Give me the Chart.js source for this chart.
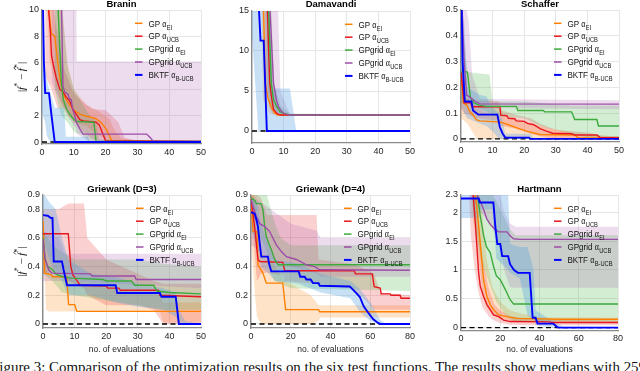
<!DOCTYPE html>
<html>
<head>
<meta charset="utf-8">
<script src="https://cdn.jsdelivr.net/npm/chart.js@4.4.0/dist/chart.umd.min.js"></script>
<style>
  body { margin: 0; width: 640px; height: 371px; overflow: hidden; background: #fff; position: relative; }
  canvas { position: absolute; }
  #caption { position: absolute; left: -9px; top: 360px; font-family: "Liberation Serif", serif; font-size: 15px; line-height: 15px; white-space: nowrap; color: #111; transform-origin: 0 0; }
</style>
</head>
<body>
<canvas id="c1" width="210" height="160" style="left:0;top:0"></canvas>
<canvas id="c2" width="210" height="160" style="left:210px;top:0"></canvas>
<canvas id="c3" width="220" height="160" style="left:420px;top:0"></canvas>
<canvas id="c4" width="210" height="197" style="left:0;top:160px"></canvas>
<canvas id="c5" width="210" height="197" style="left:210px;top:160px"></canvas>
<canvas id="c6" width="220" height="197" style="left:420px;top:160px"></canvas>
<div id="caption">Figure 3: Comparison of the optimization results on the six test functions. The results show medians with 25%</div>
<script>
// medianas [x, y] y bandas [x, inferior, superior]
// --- Branin
const braninGpEI = [[2,10.5],[2.9,8.2],[3.5,8.1],[4,8],[4.5,7],[5,6],[5.5,5],[6.6,3.7],[7.6,3.2],[9,2.7],[10,2.4],[12,2.1],[14,1.95],[16.6,1.8],[18.2,1.55],[19.2,1.3],[20.3,0.93],[21.3,0.43],[22,0.1],[50,0.05]];
const braninGpUCB = [[1.9,10.5],[2.65,8.3],[3,6.5],[3.7,5.7],[4.5,4.85],[5.6,4.0],[6.6,3.8],[7.6,3.4],[8.7,3.1],[9.8,2.45],[10.8,2.1],[11.9,1.7],[13,1.6],[17,1.5],[18,1.3],[19,0.7],[20,0.1],[50,0.05]];
const braninGridEI = [[5,10.5],[5.6,7],[6.1,4.5],[6.7,3.2],[7.7,2.5],[8.7,2.1],[10,1.7],[11,1.55],[16.3,1.5],[17,0.05],[50,0.05]];
const braninGridUCB = [[6.1,10.5],[6.6,4.2],[7.1,3.8],[8.2,3.6],[8.5,3.3],[9.2,3.2],[9.6,2.5],[10.3,2.0],[10.8,1.5],[11.9,1.0],[12.9,0.6],[32.9,0.6],[34,0.35],[35,0.05],[50,0.05]];
const braninBktf = [[0.3,10.5],[0.6,6],[1,3.7],[2.2,3.7],[3,2],[4,0],[50,0]];
const braninGpEIBand = [[1.5,10.5,10.5],[2.5,6,11],[4,4.5,11],[6,3,11],[8,2,6],[10,1.5,4],[14,1.2,2.8],[18,0.5,2.3],[21,0,1.8],[23,0,0.8],[25,0,0.3],[30,0,0.1],[50,0,0.05]];
const braninGpUCBBand = [[1,5,11],[3,4,11],[5,2.5,8],[7,2.6,5.5],[10,1.6,3.7],[13,0.8,3],[16,0.2,2.5],[20,0,2.4],[24,0,1.5],[26,0,0.3],[30,0,0.1],[50,0,0.05]];
const braninGridEIBand = [[4,4,11],[6,2,11],[8,1.5,5.7],[10,0.8,4],[13,0.5,2.8],[15,0,2],[17,0,1.6],[18,0,0.2],[50,0,0.05]];
const braninGridUCBBand = [[3,4.5,11],[6,3,11],[8,2,11],[10.8,1,11],[10.9,0.6,6.1],[13,0.3,6.1],[15,0,6.1],[50,0,6.1]];
const braninBktfBand = [[0,2.2,10.5],[1,1.5,6],[1.5,0.5,4.7],[2.5,0,3.8],[4,0,2.6],[7,0,2.6],[7.5,0,0.4],[14.5,0,0.4],[15,0,0],[50,0,0]];

// --- Damavandi
const damaGpEI = [[3.6,16],[4.2,6],[5,4.2],[6,3.1],[7,2.3],[8,2.0],[50,2.0]];
const damaGpUCB = [[4.8,16],[5.6,6],[6.3,3.9],[6.8,2.7],[7.9,2.2],[8.9,2.0],[50,2.0]];
const damaGridEI = [[5.2,16],[6.1,6],[6.8,3.9],[7.9,3.0],[8.9,2.4],[10,2.2],[12,2.0],[50,2.0]];
const damaGridUCB = [[5.6,16],[6.8,6],[7.7,3.9],[8.4,3.0],[9.5,2.4],[10.5,2.1],[12,2.0],[50,2.0]];
const damaBktf = [[2.1,16],[2.7,11.3],[3.7,11.3],[4.2,5.5],[4.7,0],[50,0]];
const damaGpEIBand = [[3,16,16],[3.5,4,16],[4.5,3,16],[5.5,2.2,8],[7,2,3],[8,2,2.1],[50,2,2]];
const damaGpUCBBand = [[4,16,16],[4.5,5,16],[5.5,3,16],[6.5,2.2,6],[8,2,3],[10,2,2.1],[50,2,2]];
const damaGridEIBand = [[4.5,16,16],[5,5,16],[6,3.5,16],[7,2.5,6],[9,2.1,3.2],[12,2,2.2],[50,2,2]];
const damaGridUCBBand = [[4.5,16,16],[5.5,5,16],[7,3,16],[8.2,2.3,16],[9,2.1,5],[12,2,2.1],[50,2,2]];
const damaBktfBand = [[0,12,16],[2,0,16],[5.5,0,16],[6.5,0,5.3],[12,0,5.3],[14,0,0],[50,0,0]];

// --- Schaffer
const schGpEI = [[0,0.25],[0.4,0.2],[0.7,0.14],[1.9,0.13],[2.7,0.107],[4,0.09],[4.8,0.075],[6,0.07],[12.5,0.065],[15,0.055],[17.7,0.043],[20.8,0.03],[23,0.023],[25,0.017],[36,0.015],[37,0.005],[50,0.004]];
const schGpUCB = [[0,0.26],[1,0.14],[3,0.14],[3.5,0.125],[12.3,0.125],[12.6,0.092],[14.5,0.09],[15,0.08],[17,0.078],[17.5,0.07],[20,0.068],[21,0.06],[23,0.055],[24,0.048],[25,0.04],[27,0.03],[29,0.022],[35,0.02],[36,0.015],[43,0.015],[44,0.005],[50,0.005]];
const schGridEI = [[0,0.26],[2,0.26],[3,0.16],[4,0.14],[6,0.13],[8,0.126],[17.5,0.126],[18,0.11],[26,0.11],[26.5,0.105],[35,0.105],[36,0.075],[43,0.075],[43.5,0.05],[50,0.05]];
const schGridUCB = [[0.3,0.52],[1,0.3],[1.8,0.17],[3,0.16],[4.5,0.145],[6,0.136],[50,0.135]];
const schBktf = [[0.2,0.52],[0.5,0.3],[1.2,0.145],[3.3,0.145],[3.8,0.11],[5.5,0.094],[11.5,0.094],[12.3,0.045],[13.2,0.02],[14,0.005],[21.5,0.005],[22,0],[50,0]];
const schGpEIBand = [[0,0.08,0.26],[2,0.06,0.16],[5,0,0.12],[8,0,0.1],[13,0,0.09],[20,0,0.07],[25,0,0.05],[35,0,0.025],[40,0,0.015],[50,0,0.01]];
const schGpUCBBand = [[0,0.12,0.3],[1,0.1,0.16],[5,0.08,0.15],[12,0.07,0.145],[13,0.05,0.11],[17,0.04,0.095],[22,0.02,0.08],[25,0.01,0.06],[30,0,0.035],[40,0,0.025],[45,0,0.012],[50,0,0.01]];
const schGridEIBand = [[0,0.14,0.52],[2,0.14,0.26],[9,0.1,0.25],[10,0.09,0.145],[20,0.08,0.145],[25,0.05,0.14],[35,0.02,0.13],[40,0.005,0.13],[50,0,0.13]];
const schGridUCBBand = [[0,0.2,0.52],[1.5,0.15,0.52],[2.4,0.14,0.46],[3.5,0.13,0.25],[6,0.12,0.155],[50,0.115,0.15]];
const schBktfBand = [[0,0.13,0.52],[1,0.1,0.45],[2,0.08,0.2],[6,0.06,0.17],[8,0.05,0.165],[10,0.03,0.12],[12,0,0.1],[13,0,0.08],[14,0,0.02],[22,0,0.02],[23,0,0],[50,0,0]];

// --- Griewank D=3
const g3GpEI = [[0,0.72],[0.5,0.355],[2.5,0.345],[3,0.33],[7.5,0.33],[8.1,0.135],[10,0.135],[10.7,0.088],[50,0.088]];
const g3GpUCB = [[0,0.63],[8,0.63],[8.8,0.4],[9.5,0.34],[10.2,0.32],[11.3,0.285],[11.8,0.27],[20,0.265],[20.5,0.25],[24,0.25],[24.5,0.235],[36.5,0.235],[37,0.2],[50,0.19]];
const g3GridEI = [[0,0.6],[0.7,0.45],[1.5,0.4],[3,0.38],[4,0.35],[6,0.33],[9,0.32],[19,0.31],[20,0.3],[28,0.3],[29,0.27],[35,0.27],[36,0.23],[40,0.22],[50,0.21]];
const g3GridUCB = [[0,0.59],[0.7,0.45],[1.8,0.378],[2.8,0.355],[15,0.35],[15.5,0.335],[29,0.335],[29.5,0.31],[50,0.31]];
const g3Bktf = [[0,0.76],[1.5,0.755],[2.5,0.74],[3,0.74],[3.4,0.436],[6,0.436],[6.5,0.38],[7.6,0.27],[23,0.27],[23.5,0.216],[37,0.216],[37.5,0.19],[42,0.19],[43,0],[50,0]];
const g3GpEIBand = [[0,0.6,0.8],[1,0.1,0.4],[2,0.088,0.35],[7,0.088,0.34],[10,0.088,0.3],[20,0.088,0.25],[30,0.088,0.22],[37,0.088,0.2],[38,0.01,0.15],[50,0.01,0.15]];
const g3GpUCBBand = [[0,0.35,0.8],[5,0.35,0.8],[8,0.3,0.84],[13,0.25,0.84],[14,0.2,0.6],[20,0.13,0.45],[30,0.13,0.35],[35,0.1,0.3],[38,0,0.28],[50,0,0.28]];
const g3GridEIBand = [[0,0.35,0.65],[3,0.3,0.55],[6,0.22,0.5],[10,0.2,0.45],[30,0.13,0.45],[38,0.1,0.42],[50,0.1,0.4]];
const g3GridUCBBand = [[0,0.3,0.65],[5,0.3,0.6],[7,0.3,0.49],[50,0.25,0.49]];
const g3BktfBand = [[0,0.6,0.92],[2,0.45,0.85],[4,0.35,0.8],[6,0.3,0.6],[8,0.2,0.45],[15,0.2,0.35],[23,0.15,0.33],[30,0.12,0.28],[38,0.1,0.25],[42,0.05,0.22],[43,0,0.1],[45,0,0.02],[50,0,0]];

// --- Griewank D=4
const g4GpEI = [[0,0.89],[1,0.645],[3,0.645],[3.5,0.413],[6,0.355],[7.7,0.285],[16,0.285],[17.4,0.1],[34,0.1],[34.5,0.085],[80,0.085]];
const g4GpUCB = [[0,0.88],[1.8,0.68],[3.5,0.45],[4.4,0.436],[16,0.43],[17,0.371],[52,0.371],[52.5,0.35],[61,0.35],[62,0.26],[65,0.25],[65.5,0.21],[70,0.21],[70.5,0.2],[75,0.2],[75.5,0.18],[80,0.18]];
const g4GridEI = [[0,0.88],[2,0.86],[2.7,0.84],[5,0.84],[6,0.8],[6.9,0.68],[7.7,0.61],[9,0.56],[10.2,0.52],[11.9,0.45],[13.6,0.413],[80,0.413]];
const g4GridUCB = [[0,0.87],[1,0.82],[2.7,0.75],[4.4,0.7],[6.9,0.68],[9.4,0.645],[11,0.6],[12.8,0.55],[15.3,0.505],[17.8,0.47],[22.8,0.45],[27.9,0.413],[32,0.4],[34.6,0.378],[80,0.375]];
const g4Bktf = [[0,0.78],[1.8,0.77],[2.7,0.73],[3.5,0.68],[4.4,0.56],[5.2,0.47],[8.5,0.47],[9,0.425],[10.2,0.367],[24,0.367],[24.8,0.33],[27,0.33],[27.9,0.31],[30,0.31],[31.2,0.285],[34,0.285],[34.6,0.267],[49.7,0.262],[53,0.216],[54.7,0.19],[56.7,0.123],[58.9,0.08],[61.4,0.035],[63.9,0.007],[65,0],[80,0]];
const g4GpEIBand = [[0,0.6,0.9],[2,0.2,0.9],[3,0.05,0.6],[5,0,0.5],[10,0,0.45],[16,0,0.32],[17,0,0.3],[20,0,0.28],[30,0,0.2],[34,0.02,0.13],[35,0.046,0.13],[80,0.046,0.13]];
const g4GpUCBBand = [[0,0.8,0.9],[3,0.3,0.9],[5,0.35,0.88],[8,0.36,0.76],[16,0.34,0.76],[17,0.3,0.76],[33,0.28,0.76],[34,0.27,0.45],[50,0.25,0.42],[55,0.2,0.4],[62,0.1,0.35],[65,0.1,0.22],[80,0.1,0.2]];
const g4GridEIBand = [[0,0.8,0.9],[5,0.6,0.9],[8,0.5,0.9],[10,0.35,0.8],[12,0.3,0.7],[15,0.28,0.6],[20,0.25,0.55],[80,0.23,0.55]];
const g4GridUCBBand = [[0,0.55,0.9],[5,0.5,0.85],[10,0.45,0.8],[20,0.4,0.7],[33,0.35,0.65],[35,0.33,0.6],[80,0.33,0.6]];
const g4BktfBand = [[0,0.65,0.88],[3,0.55,0.85],[5,0.4,0.7],[9,0.35,0.55],[12,0.3,0.45],[24,0.28,0.42],[35,0.22,0.35],[50,0.18,0.3],[55,0.08,0.24],[60,0.02,0.15],[65,0,0.03],[68,0,0],[80,0,0]];

// --- Hartmann
const hGpEI = [[7,2.4],[8.2,2.05],[9.8,1.47],[11.5,0.83],[13.2,0.54],[14.9,0.4],[16.6,0.31],[19.2,0.22],[23.4,0.19],[28.5,0.16],[50,0.145],[80,0.145]];
const hGpUCB = [[6,2.4],[7.3,1.82],[8.2,1.35],[9,0.95],[9.8,0.72],[11.5,0.54],[13.2,0.4],[14.9,0.31],[16.6,0.22],[19.2,0.19],[21.7,0.13],[25.1,0.105],[45,0.1],[46,0.09],[80,0.09]];
const hGridEI = [[8,2.4],[9.8,1.94],[11.5,1.6],[13,1.4],[14.9,1.3],[16.6,1.06],[18,0.9],[20,0.83],[22.6,0.66],[25.1,0.48],[26.8,0.41],[80,0.41]];
const hGridUCB = [[6.5,2.4],[9.8,2.2],[11.5,2.05],[13.2,1.88],[14.9,1.79],[17.5,1.7],[19.2,1.66],[23.4,1.66],[25.1,1.59],[26.8,1.54],[30,1.53],[80,1.53]];
const hBktf = [[0,2.24],[9,2.24],[9.5,2.17],[16.5,2.17],[17.5,1.75],[18.5,1.45],[20,1.45],[21,1.24],[24,1.24],[25,1.1],[27,1.0],[29,0.95],[35,0.95],[36.5,0.17],[38,0.17],[39,0.07],[47,0.07],[49,0.01],[50,0],[80,0]];
const hGpEIBand = [[5,2.4,2.4],[6,1.9,2.4],[9,1.2,2.4],[11,0.6,1.9],[13,0.35,1.2],[16,0.22,0.7],[20,0.15,0.45],[25,0.12,0.3],[30,0.1,0.25],[40,0.1,0.18],[80,0.1,0.17]];
const hGpUCBBand = [[4,2.4,2.4],[5,1.6,2.4],[7,1.0,2.3],[9,0.6,1.8],[11,0.35,1.2],[14,0.2,0.7],[17,0.12,0.4],[20,0.08,0.3],[25,0.05,0.2],[35,0.04,0.15],[80,0.04,0.12]];
const hGridEIBand = [[5,2.4,2.4],[7,1.8,2.4],[10,1.2,2.4],[14,0.8,2.4],[18,0.45,2.2],[22,0.25,1.9],[25,0.15,1.7],[28,0.1,1.6],[80,0.1,1.6]];
const hGridUCBBand = [[5,2.3,2.4],[10,2.0,2.4],[15,1.8,2.4],[20,1.4,2.3],[22,1.0,2.0],[25,0.7,1.8],[28,0.69,1.75],[80,0.69,1.75]];
const hBktfBand = [[0,1.9,2.3],[9,1.9,2.3],[10,2.05,2.35],[16,2.05,2.35],[18,1.2,2.35],[24,1.0,2.35],[25,0.95,1.45],[30,0.85,1.4],[34,0.2,1.4],[37,0.15,1.0],[38,0.05,0.3],[45,0,0.15],[52,0,0.02],[80,0,0.01]];

// leyenda y estilos
const legendMain = ['GP ', 'GP ', 'GPgrid ', 'GPgrid ', 'BKTF '];
const legendSub = ['EI', 'UCB', 'EI', 'UCB', 'B-UCB'];
const lineColors = ['#ff8000', '#e8171e', '#3cab3c', '#9d4ca8', '#0000ff'];
const bandColors = ['rgba(255,140,30,0.24)', 'rgba(232,40,40,0.22)', 'rgba(70,180,70,0.24)', 'rgba(160,80,170,0.2)', 'rgba(80,160,225,0.32)'];
const lineOrder = [5, 4, 3, 2, 0];

const panels = [
    { id: 'c1', title: 'Branin', top: 10, right: 9, left: 42, bottom: 16, xmax: 50, xstep: 10, ymin: -0.15, ymax: 10, yticks: [0,2,4,6,8,10], ylabel: true, xlabel: false, titleY: 4,
      series: [[braninGpEI, braninGpEIBand], [braninGpUCB, braninGpUCBBand], [braninGridEI, braninGridEIBand], [braninGridUCB, braninGridUCBBand], [braninBktf, braninBktfBand]] },
    { id: 'c2', title: 'Damavandi', top: 11, right: 10, left: 42, bottom: 17, xmax: 50, xstep: 10, ymin: -1.5, ymax: 15, yticks: [0,5,10,15], ylabel: false, xlabel: false, titleY: 4,
      series: [[damaGpEI, damaGpEIBand], [damaGpUCB, damaGpUCBBand], [damaGridEI, damaGridEIBand], [damaGridUCB, damaGridUCBBand], [damaBktf, damaBktfBand]] },
    { id: 'c3', title: 'Schaffer', top: 10, right: 21, left: 41, bottom: 18, xmax: 50, xstep: 10, ymin: -0.012, ymax: 0.5, yticks: [0,0.1,0.2,0.3,0.4,0.5], ylabel: false, xlabel: false, titleY: 4,
      series: [[schGpEI, schGpEIBand], [schGpUCB, schGpUCBBand], [schGridEI, schGridEIBand], [schGridUCB, schGridUCBBand], [schBktf, schBktfBand]] },
    { id: 'c4', title: 'Griewank (D=3)', top: 35, right: 9, left: 43, bottom: 29, xmax: 50, xstep: 10, ymin: -0.028, ymax: 0.9, yticks: [0,0.2,0.4,0.6,0.8,0.9], ylabel: true, xlabel: true, titleY: 29.5,
      series: [[g3GpEI, g3GpEIBand], [g3GpUCB, g3GpUCBBand], [g3GridEI, g3GridEIBand], [g3GridUCB, g3GridUCBBand], [g3Bktf, g3BktfBand]] },
    { id: 'c5', title: 'Griewank (D=4)', top: 35, right: 10, left: 41, bottom: 29, xmax: 80, xstep: 20, ymin: -0.028, ymax: 0.9, yticks: [0,0.2,0.4,0.6,0.8,0.9], ylabel: false, xlabel: true, titleY: 29.5,
      series: [[g4GpEI, g4GpEIBand], [g4GpUCB, g4GpUCBBand], [g4GridEI, g4GridEIBand], [g4GridUCB, g4GridUCBBand], [g4Bktf, g4BktfBand]] },
    { id: 'c6', title: 'Hartmann', top: 35, right: 22, left: 41, bottom: 26.5, xmax: 80, xstep: 20, ymin: -0.05, ymax: 2.3, yticks: [0,0.5,1,1.5,2,2.3], ylabel: false, xlabel: true, titleY: 29.5,
      series: [[hGpEI, hGpEIBand], [hGpUCB, hGpUCBBand], [hGridEI, hGridEIBand], [hGridUCB, hGridUCBBand], [hBktf, hBktfBand]] }
];

const SANS = '"Liberation Sans", Arial, sans-serif';
const SERIF = '"Liberation Serif", serif';

function decorPlugin(p) {
    return {
        id: 'decor',
        afterDraw(chart) {
            const ctx = chart.ctx;
            const a = chart.chartArea;
            ctx.save();
            // titulo
            ctx.fillStyle = '#000';
            ctx.font = 'bold 9.5px ' + SANS;
            ctx.textAlign = 'center';
            ctx.textBaseline = 'middle';
            ctx.fillText(p.title, (a.left + a.right) / 2, p.titleY);

            // leyenda
            for (let i = 0; i < 5; i++) {
                const y = a.top + 13.3 + i * 12.9;
                ctx.strokeStyle = lineColors[i];
                ctx.lineWidth = i === 4 ? 2 : 1.5;
                ctx.beginPath();
                ctx.moveTo(a.left + 93, y);
                ctx.lineTo(a.left + 100.5, y);
                ctx.stroke();

                ctx.save();
                ctx.translate(a.left + 106.5, y + 3.2);
                ctx.scale(0.82, 1);
                ctx.textAlign = 'left';
                ctx.textBaseline = 'alphabetic';
                ctx.fillStyle = '#111';
                ctx.font = '9.8px ' + SANS;
                ctx.fillText(legendMain[i], 0, 0);
                let w = ctx.measureText(legendMain[i]).width;
                ctx.font = '9.8px ' + SERIF;
                ctx.fillText('α', w, 0);
                w += ctx.measureText('α').width + 0.3;
                ctx.font = '7px ' + SANS;
                ctx.fillText(legendSub[i], w, 3);
                ctx.restore();
            }

            // etiqueta eje y
            if (p.ylabel) {
                const cx = 22 - chart.canvas.offsetLeft;
                const cy = (a.top + a.bottom) / 2;
                ctx.save();
                ctx.translate(cx, cy);
                ctx.rotate(-Math.PI / 2);
                ctx.fillStyle = '#111';
                const parts = [
                    ['|', '11px ' + SERIF, 0],
                    ['f', 'italic 11px ' + SERIF, 0],
                    ['*', '8px ' + SERIF, -4],
                    [' \u2212 ', '11px ' + SERIF, 0],
                    ['f', 'italic 11px ' + SERIF, 0, true],
                    ['*', '8px ' + SERIF, -4],
                    ['|', '11px ' + SERIF, 0]
                ];
                let total = 0;
                parts.forEach(pt => { ctx.font = pt[1]; total += ctx.measureText(pt[0]).width; });
                let x = -total / 2;
                ctx.textBaseline = 'middle';
                ctx.textAlign = 'left';
                parts.forEach(pt => {
                    ctx.font = pt[1];
                    ctx.fillText(pt[0], x, pt[2]);
                    const w = ctx.measureText(pt[0]).width;
                    if (pt[3]) {
                        // acento circunflejo sobre la f
                        ctx.strokeStyle = '#111';
                        ctx.lineWidth = 0.8;
                        ctx.beginPath();
                        ctx.moveTo(x + 1.2, -6.2);
                        ctx.lineTo(x + 3.2, -8.2);
                        ctx.lineTo(x + 5.2, -6.2);
                        ctx.stroke();
                    }
                    x += w;
                });
                ctx.restore();
            }
            ctx.restore();
        }
    };
}

function buildPanel(p) {
    const datasets = [];
    // bandas
    p.series.forEach((s, i) => {
        const band = s[1];
        datasets.push({
            data: band.map(b => ({ x: b[0], y: b[1] })),
            borderWidth: 0, pointRadius: 0, fill: false, order: 30 + i
        });
        datasets.push({
            data: band.map(b => ({ x: b[0], y: b[2] })),
            borderWidth: 0, pointRadius: 0, fill: '-1', backgroundColor: bandColors[i], order: 20 + (5 - i)
        });
    });
    // linea base discontinua
    datasets.push({
        data: [{ x: 0, y: 0 }, { x: p.xmax, y: 0 }],
        borderColor: '#000', borderWidth: 1.4, borderDash: [5, 3.5], pointRadius: 0, fill: false, order: 1
    });
    // medianas
    p.series.forEach((s, i) => {
        datasets.push({
            data: s[0].map(v => ({ x: v[0], y: v[1] })),
            borderColor: lineColors[i], borderWidth: i === 4 ? 1.9 : 1.4,
            pointRadius: 0, fill: false, tension: 0, order: lineOrder[i]
        });
    });

    new Chart(document.getElementById(p.id), {
        type: 'line',
        data: { datasets },
        options: {
            responsive: false,
            animation: false,
            events: [],
            layout: { padding: { left: 0, top: p.top, right: p.right, bottom: 0 } },
            plugins: { legend: { display: false }, tooltip: { enabled: false } },
            scales: {
                x: {
                    type: 'linear', min: 0, max: p.xmax,
                    ticks: { stepSize: p.xstep, color: '#262626', font: { family: SANS, size: 9 }, padding: 3, maxRotation: 0, callback: v => String(v) },
                    grid: { color: '#e6e6e6', drawTicks: false },
                    border: { color: '#8a8a8a', width: 1.3 },
                    title: { display: p.xlabel, text: 'no. of evaluations', color: '#222', font: { family: SANS, size: 8.5 }, padding: { top: 0, bottom: 2 } },
                    afterFit: s => { s.height = p.bottom; }
                },
                y: {
                    type: 'linear', min: p.ymin, max: p.ymax,
                    afterBuildTicks: s => { s.ticks = p.yticks.map(v => ({ value: v })); },
                    ticks: { color: '#262626', font: { family: SANS, size: 9 }, padding: 3, autoSkip: false, callback: v => String(v) },
                    grid: { color: '#e6e6e6', drawTicks: false },
                    border: { color: '#8a8a8a', width: 1.3 },
                    afterFit: s => { s.width = p.left; }
                }
            }
        },
        plugins: [decorPlugin(p)]
    });
}

panels.forEach(buildPanel);

// ajustar el ancho del pie de figura
const cap = document.getElementById('caption');
const capW = cap.getBoundingClientRect().width;
cap.style.transform = 'scaleX(' + (660 / capW) + ')';
</script>
</body>
</html>
